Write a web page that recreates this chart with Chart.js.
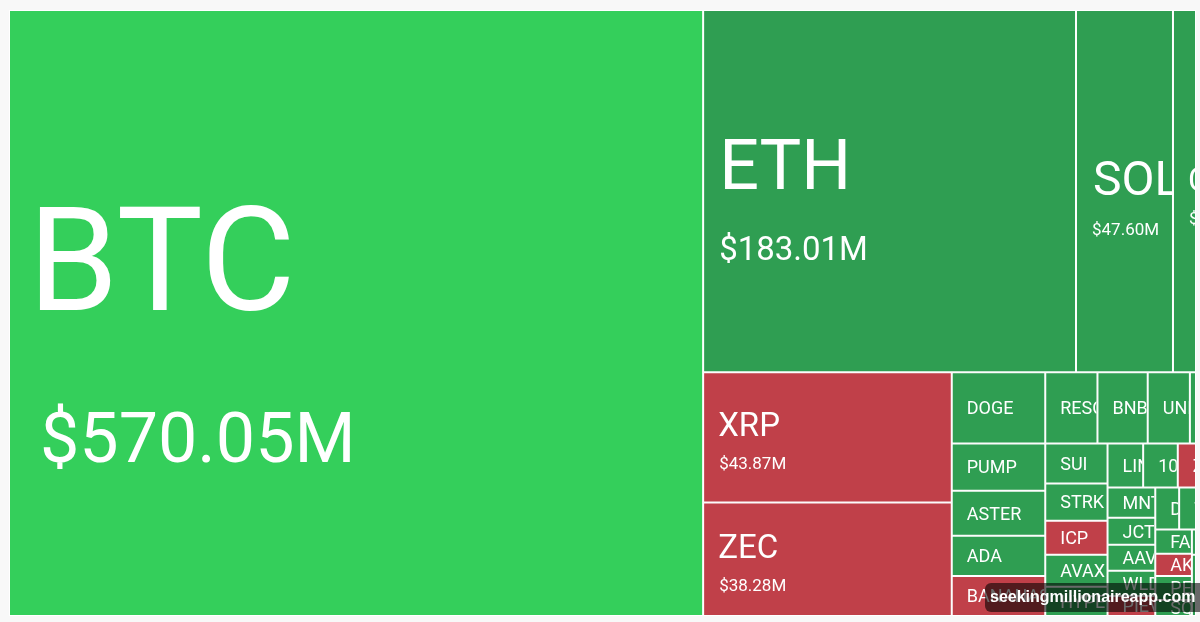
<!DOCTYPE html>
<html>
<head>
<meta charset="utf-8">
<script src="https://cdn.jsdelivr.net/npm/chart.js@4/dist/chart.umd.min.js"></script>
<style>
  body { margin: 0; background: #f8f8f8; overflow: hidden; }
  #wrap { position: relative; width: 1200px; height: 622px; }
  #mark {
    position: absolute; left: 985px; top: 583px; width: 225px; height: 29px;
    padding-left: 5px; box-sizing: border-box;
    border-radius: 6px; background: rgba(0,0,0,0.58); color: #fff;
    font: bold 16px/28px "Liberation Sans", sans-serif; white-space: nowrap;
  }
</style>
</head>
<body>
<div id="wrap">
  <canvas id="map" width="1200" height="622"></canvas>
  <div id="mark">seekingmillionaireapp.com</div>
</div>
<script>
// net flows in $M
var names = ['BTC', 'ETH', 'SOL', 'C', 'XRP', 'ZEC',
  'DOGE', 'PUMP', 'ASTER', 'ADA', 'BANANAS31',
  'RESOLV', 'BNB', 'UNI', 'ONDO',
  'SUI', 'STRK', 'ICP', 'AVAX', 'HYPE',
  'LINK', '1000PEPE', 'ZEN',
  'MNT', 'JCT', 'AAVE', 'WLD', 'PIEVERSE',
  'DASH', 'TAO', 'FARTCOIN', 'AKT', 'PENGU', 'SQD', 'NEAR', 'LTC'];
var values = [570.05, 183.01, 47.60, 11.30, 43.87, 38.28,
  9.03, 5.98, 5.72, 5.08, 5.08,
  5.04, 4.85, 4.07, 0.59,
  3.39, 3.13, 2.88, 2.71, 2.46,
  2.13, 2.07, 1.09,
  1.95, 1.75, 1.69, 1.62, 1.30,
  1.36, 0.96, 1.20, 1.10, 1.19, 0.80, 0.14, 0.34];
var down = ['XRP', 'ZEC', 'BANANAS31', 'ICP', 'ZEN', 'PIEVERSE', 'AKT'];

// nesting of the map, levels swap between side by side and stacked
var tree = ['BTC', [
  ['ETH', 'SOL', 'C'],
  [
    ['XRP', 'ZEC'],
    ['DOGE', 'PUMP', 'ASTER', 'ADA', 'BANANAS31'],
    [
      ['RESOLV', 'BNB', 'UNI', 'ONDO'],
      [
        ['SUI', 'STRK', 'ICP', 'AVAX', 'HYPE'],
        [
          ['LINK', '1000PEPE', 'ZEN'],
          [
            ['MNT', 'JCT', 'AAVE', 'WLD', 'PIEVERSE'],
            [
              ['DASH', 'TAO'],
              [
                ['FARTCOIN', 'AKT', 'PENGU', 'SQD'],
                ['NEAR', 'LTC']
              ]
            ]
          ]
        ]
      ]
    ]
  ]
]];

function weight(node) {
  if (Array.isArray(node)) return node.reduce(function(s, n) { return s + weight(n); }, 0);
  return values[names.indexOf(node)];
}

var cells = [];
function slice(node, x, y, w, h, across) {
  if (!Array.isArray(node)) {
    var i = names.indexOf(node);
    cells.push({x: x, y: y, x2: x + w, y2: y + h, name: node, value: values[i]});
    return;
  }
  var total = weight(node), pos = 0;
  node.forEach(function(n) {
    var part = weight(n) / total;
    if (across) slice(n, x + pos * w, y, part * w, h, false);
    else slice(n, x, y + pos * h, w, part * h, true);
    pos += part;
  });
}
slice(tree, 0, 0, 1, 1, true);

class TreemapController extends Chart.DatasetController {
  update(mode) {
    this.updateElements(this._cachedMeta.data, 0, this._cachedMeta.data.length, mode);
  }
  updateElements(rects, start, count, mode) {
    var xs = this._cachedMeta.xScale, ys = this._cachedMeta.yScale;
    for (var i = start; i < start + count; i++) {
      var c = this.getDataset().data[i];
      var left = xs.getPixelForValue(c.x), right = xs.getPixelForValue(c.x2);
      this.updateElement(rects[i], i, {
        x: (left + right) / 2,
        width: right - left,
        y: ys.getPixelForValue(c.y),
        base: ys.getPixelForValue(c.y2),
        height: ys.getPixelForValue(c.y2) - ys.getPixelForValue(c.y),
        horizontal: false,
        borderSkipped: {},
        inflateAmount: 0,
        options: this.resolveDataElementOptions(i, mode)
      }, mode);
    }
  }
  draw() {
    var ctx = this.chart.ctx;
    this._cachedMeta.data.forEach(function(r) { r.draw(ctx); });
  }
}
TreemapController.id = 'treemap';
TreemapController.defaults = {dataElementType: 'bar'};
Chart.register(TreemapController);

// text sizes by cell size, smallest cells only get the name
function labelStyle(v) {
  if (v > 500) return {title: 145, sub: 70, pad: 19, subPad: 31, a: -0.379, b: 0.857};
  if (v > 100) return {title: 70, sub: 33, pad: 16, subPad: 16, a: -0.386, b: 0.814};
  if (v > 45) return {title: 48, sub: 17, pad: 17, subPad: 16, a: -0.27, b: 0.79};
  if (v > 35) return {title: 33, sub: 17, pad: 15, subPad: 16, a: -0.4, b: 0.78};
  if (v > 10) return {title: 33, sub: 17, pad: 15, subPad: 16, a: -0.37, b: 0.8};
  return {title: 18, sub: 0, pad: 15, subPad: 0, a: 0, b: 0};
}

var cellLabels = {
  id: 'cellLabels',
  afterDatasetsDraw: function(chart) {
    var ctx = chart.ctx;
    chart.getDatasetMeta(0).data.forEach(function(r, i) {
      var c = cells[i], st = labelStyle(c.value);
      var left = r.x - r.width / 2, top = r.y, mid = r.y + r.height / 2;
      ctx.save();
      ctx.beginPath();
      ctx.rect(left, top, r.width - 1, r.height);
      ctx.clip();
      ctx.fillStyle = '#fff';
      ctx.textBaseline = 'alphabetic';
      ctx.font = st.title + 'px Roboto';
      ctx.fillText(c.name, left + st.pad, mid + st.a * st.title + 0.355 * st.title);
      if (st.sub) {
        ctx.font = st.sub + 'px Roboto';
        ctx.fillText('$' + c.value.toFixed(2) + 'M', left + st.subPad, mid + st.b * st.title + 0.355 * st.sub);
      }
      ctx.restore();
    });
  }
};

new Chart(document.getElementById('map'), {
  type: 'treemap',
  data: {
    datasets: [{
      data: cells,
      backgroundColor: cells.map(function(c) {
        if (c.name == 'BTC') return '#34cf5b';
        return down.indexOf(c.name) >= 0 ? '#c04049' : '#2f9e52';
      }),
      borderColor: '#ffffff',
      borderWidth: 1
    }]
  },
  options: {
    responsive: false,
    animation: false,
    parsing: false,
    layout: {padding: {left: 9, top: 10, right: 4, bottom: 6}},
    scales: {
      x: {type: 'linear', min: 0, max: 1, display: false},
      y: {type: 'linear', min: 0, max: 1, display: false, reverse: true}
    },
    plugins: {legend: {display: false}, tooltip: {enabled: false}}
  },
  plugins: [cellLabels]
});
</script>
</body>
</html>
